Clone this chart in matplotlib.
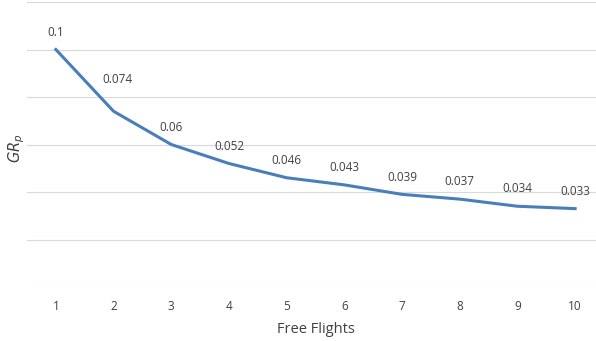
import matplotlib.pyplot as plt

flights = [1, 2, 3, 4, 5, 6, 7, 8, 9, 10]
gr_p = [0.1, 0.074, 0.06, 0.052, 0.046, 0.043, 0.039, 0.037, 0.034, 0.033]
labels = ['0.1', '0.074', '0.06', '0.052', '0.046', '0.043', '0.039', '0.037', '0.034', '0.033']

plt.rcParams['font.family'] = ['Open Sans', 'DejaVu Sans']

fig = plt.figure(figsize=(5.96, 3.41), dpi=100)
ax = fig.add_axes([27 / 596, 54 / 341, 577 / 596, 285 / 341])

ax.plot(flights, gr_p, color='#4a7ebb', linewidth=2.2, solid_joinstyle='round')

for i, (x, y, t) in enumerate(zip(flights, gr_p, labels)):
    dx, dy = (3, 23) if i == 1 else (0, 12.5)
    ax.annotate(t, (x, y), xytext=(dx, dy), textcoords='offset points',
                ha='center', va='center', fontsize=8.5, color='#404040')

ax.set_xlim(0.5, 10.5)
ax.set_ylim(0, 0.12)
ax.set_yticks([0, 0.02, 0.04, 0.06, 0.08, 0.1, 0.12])
ax.set_yticklabels([])
ax.set_xticks(flights)
ax.tick_params(axis='both', length=0, labelsize=8.5, labelcolor='#404040', pad=9)
ax.grid(axis='y', color='#d9d9d9', linewidth=0.8)
ax.set_axisbelow(True)
for s in ax.spines.values():
    s.set_visible(False)

ax.set_xlabel('Free Flights', fontsize=10.5, color='#404040', labelpad=7)
fig.text(17 / 596, 1 - 148 / 341, r'$GR_p$', rotation=90, fontsize=10.5,
         color='#404040', ha='center', va='center',
         fontfamily='DejaVu Sans', math_fontfamily='dejavusans')

fig.savefig('out.png', dpi=100)
